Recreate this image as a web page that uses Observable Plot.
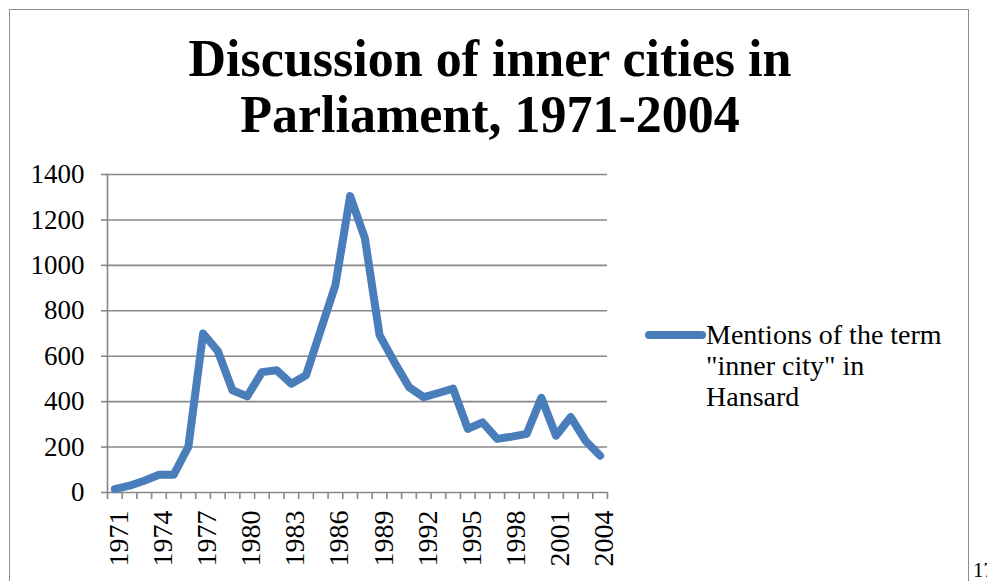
<!DOCTYPE html>
<html>
<head>
<meta charset="utf-8">
<script src="https://cdn.jsdelivr.net/npm/d3@7"></script>
<script src="https://cdn.jsdelivr.net/npm/@observablehq/plot@0.6"></script>
<style>
  html, body { margin: 0; padding: 0; background: #fff; }
  #page { position: relative; width: 987px; height: 581px; overflow: hidden; background: #fff; font-family: "Liberation Serif", serif; }
  #frame { position: absolute; left: 9px; top: 9px; width: 960px; height: 700px; border: 1.5px solid #8c8c8c; box-sizing: border-box; }
  #title { position: absolute; left: 10px; width: 960px; top: 31px; text-align: center; font-weight: bold; font-size: 52px; line-height: 56px; color: #000; }
  #chart { position: absolute; left: 0; top: 0; }
  #legend { position: absolute; left: 645px; top: 319px; display: flex; align-items: flex-start; }
  #legend .txt { font-size: 28px; line-height: 31px; color: #000; margin-left: 0px; }
  #pagenum { position: absolute; left: 973px; top: 558px; font-size: 21px; color: #000; }
</style>
</head>
<body>
<div id="page">
  <div id="frame"></div>
  <div id="chart"></div>
  <div id="title">Discussion of inner cities in<br>Parliament, 1971-2004</div>
  <div id="legend">
    <svg width="61" height="31"><line x1="4" y1="16" x2="57" y2="16" stroke="#4A7EBB" stroke-width="8" stroke-linecap="round"/></svg>
    <div class="txt">Mentions of the term<br>"inner city" in<br>Hansard</div>
  </div>
  <div id="pagenum">17</div>
</div>
<script>
const years = [1971, 1972, 1973, 1974, 1975, 1976, 1977, 1978, 1979, 1980, 1981, 1982, 1983, 1984, 1985, 1986, 1987,
               1988, 1989, 1990, 1991, 1992, 1993, 1994, 1995, 1996, 1997, 1998, 1999, 2000, 2001, 2002, 2003, 2004];
const mentions = [15, 30, 52, 78, 78, 202, 700, 623, 450, 423, 530, 538, 479, 516, 715, 914, 1305,
                  1120, 693, 575, 464, 420, 438, 457, 280, 309, 236, 246, 258, 417, 250, 332, 228, 162];
const yTicks = [0, 200, 400, 600, 800, 1000, 1200, 1400];
const xTickLabels = [1971, 1974, 1977, 1980, 1983, 1986, 1989, 1992, 1995, 1998, 2001, 2004];
const seriesName = 'Mentions of the term "inner city" in Hansard';

const data = years.map((y, i) => ({year: y, value: mentions[i]}));
const boundaries = years.map(y => y - 0.5).concat([years[years.length - 1] + 0.5]);
const gridColor = "#878787";

const chart = Plot.plot({
  width: 987,
  height: 581,
  marginLeft: 107,
  marginRight: 380,
  marginTop: 174,
  marginBottom: 89,
  style: {fontFamily: "Liberation Serif", fontSize: "27px", color: "#000", background: "transparent", overflow: "visible"},
  x: {type: "linear", domain: [boundaries[0], boundaries[boundaries.length - 1]], label: null},
  y: {domain: [0, 1400], label: null},
  marks: [
    Plot.ruleY(yTicks, {stroke: gridColor, strokeWidth: 1.6}),
    Plot.ruleX([boundaries[0]], {stroke: gridColor, strokeWidth: 1.6}),
    Plot.axisY({ticks: yTicks, tickSize: 6, tickPadding: 17, fontSize: 27, tickFormat: d => String(d), stroke: gridColor, strokeWidth: 1.6, label: null}),
    Plot.axisX({ticks: boundaries, tickSize: 7, tickFormat: () => "", stroke: gridColor, strokeWidth: 1.6, label: null}),
    Plot.axisX({ticks: xTickLabels, tickSize: 0, tickPadding: 18, fontSize: 28, dx: 4, tickRotate: -90, tickFormat: d => String(d), label: null}),
    Plot.line(data, {x: "year", y: "value", stroke: "#4A7EBB", strokeWidth: 8, strokeLinejoin: "round", strokeLinecap: "round", title: () => seriesName})
  ]
});
document.getElementById("chart").appendChild(chart);
</script>
</body>
</html>
